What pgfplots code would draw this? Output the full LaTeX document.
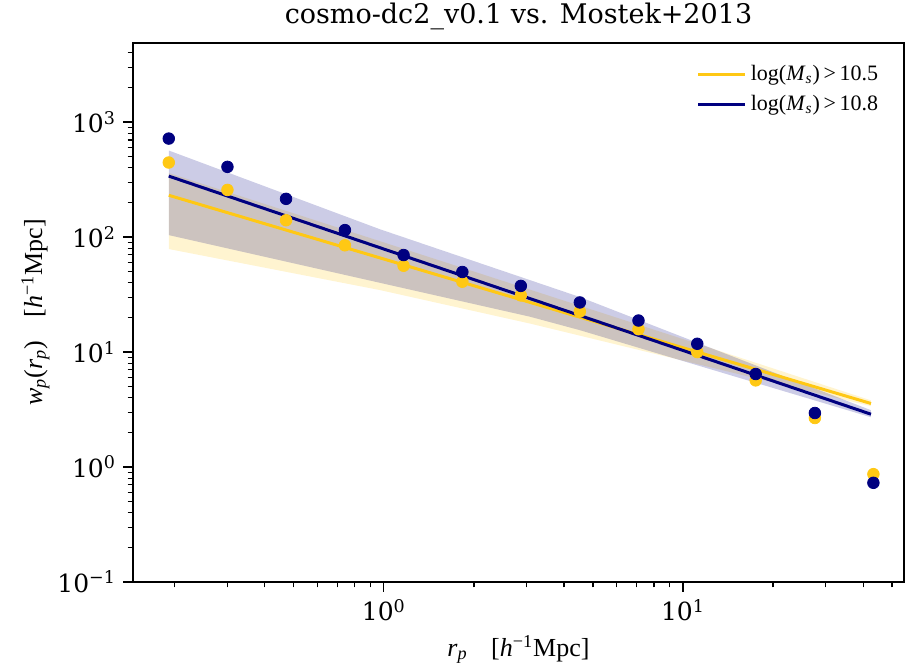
\documentclass[border=0pt]{standalone}
\usepackage{fontspec}
\setmainfont{Liberation Serif}
\newfontfamily\dejavu{DejaVu Serif}
\usepackage{pgfplots}
\pgfplotsset{compat=1.18}
\definecolor{mynavy}{RGB}{0,0,128}
\definecolor{mygold}{RGB}{255,200,20}

\begin{document}
\begin{tikzpicture}[x=1pt,y=1pt]
\useasboundingbox (-66.5,-43.5) rectangle (388.5,291);
\begin{axis}[
  at={(0,0)}, anchor=south west,
  scale only axis, width=385.5pt, height=269.5pt,
  xmode=log, ymode=log,
  xmin=0.145, xmax=54.8, ymin=0.1, ymax=4875,
  axis line style={line width=0.8pt},
  tick style={black, line width=0.6pt},
  tick align=outside,
  xtick pos=bottom, ytick pos=left,
  major tick length=5pt, minor tick length=2.75pt,
  xtick={1,10},
  xticklabels={10\textsuperscript{0},10\textsuperscript{1}},
  minor xtick={0.2,0.3,0.4,0.5,0.6,0.7,0.8,0.9,2,3,4,5,6,7,8,9,20,30,40,50},
  ytick={0.1,1,10,100,1000},
  yticklabels={10\textsuperscript{−1},10\textsuperscript{0},10\textsuperscript{1},10\textsuperscript{2},10\textsuperscript{3}},
  minor ytick={0.2,0.3,0.4,0.5,0.6,0.7,0.8,0.9,2,3,4,5,6,7,8,9,20,30,40,50,60,70,80,90,200,300,400,500,600,700,800,900,2000,3000,4000},
  ticklabel style={font=\dejavu\fontsize{12.5}{14}\selectfont},
  title={\dejavu cosmo-dc2\_v0.1 vs. Mostek+2013},
  title style={at={(axis description cs:0.5,1.0148)}, anchor=base, font=\fontsize{13.5}{15}\selectfont, inner sep=0pt},
  xlabel={\textit{r}\textsubscript{\textit{p}}\hspace{0.9em}[\textit{h}\textsuperscript{−1}Mpc]},
  xlabel style={at={(axis description cs:0.5,-0.1373)}, anchor=base, font=\fontsize{13}{15}\selectfont, inner sep=0pt},
  ylabel={\textit{w}\textsubscript{\textit{p}}(\textit{r}\textsubscript{\textit{p}})\hspace{0.9em}[\textit{h}\textsuperscript{−1}Mpc]},
  ylabel style={at={(axis description cs:-0.118,0.5)}, anchor=base, font=\fontsize{13}{15}\selectfont, inner sep=0pt},
  legend style={at={(axis description cs:0.98,0.975)}, anchor=north east, draw=none, fill=none,
    font=\fontsize{11}{12.5}\selectfont, row sep=2pt},
  legend cell align=left,
  legend image code/.code={\draw[#1] (0pt,0pt) -- (23.5pt,0pt);},
]
% bands
\addplot[draw=none, fill=mygold, fill opacity=0.2, forget plot] coordinates {
  (0.191,361) (10.97,12.0) (42.5,3.80) (42.5,3.38) (3.078,17.7) (0.970,34.6) (0.191,78.7)
} -- cycle;
\addplot[draw=none, fill=mynavy, fill opacity=0.2, forget plot] coordinates {
  (0.191,566) (0.970,117) (4.52,30.1) (42.5,3.12) (42.5,2.71) (4.52,15.5) (3.078,20.3) (0.191,104)
} -- cycle;
% fit lines
\addplot[mygold, line width=1.5pt] coordinates {(0.191,231) (42.5,3.57)};
\addlegendentry{log(\textit{M}\textsubscript{\textit{s}})\,>\,10.5}
\addplot[mynavy, line width=1.5pt] coordinates {(0.191,339) (42.5,2.88)};
\addlegendentry{log(\textit{M}\textsubscript{\textit{s}})\,>\,10.8}
% data points
\addplot[only marks, mark=*, mark size=2.9pt, mygold, mark options={draw=none, fill=mygold}, forget plot] coordinates {
  (0.191,445) (0.300,257) (0.471,140) (0.741,84.8) (1.164,56.3) (1.83,40.9) (2.87,31.1)
  (4.52,22.5) (7.10,15.8) (11.16,10.0) (17.5,5.67) (27.6,2.67) (43.3,0.867)
};
\addplot[only marks, mark=*, mark size=2.9pt, mynavy, mark options={draw=none, fill=mynavy}, forget plot] coordinates {
  (0.191,719) (0.300,408) (0.471,215) (0.741,115) (1.164,69.8) (1.83,49.7) (2.87,37.6)
  (4.52,27.0) (7.10,18.8) (11.16,11.8) (17.5,6.44) (27.6,2.95) (43.3,0.729)
};
\end{axis}
\end{tikzpicture}
\end{document}
